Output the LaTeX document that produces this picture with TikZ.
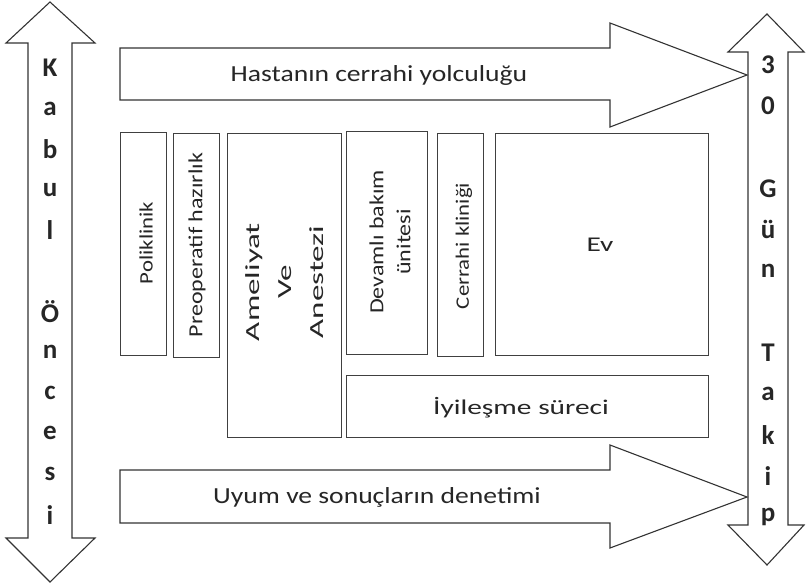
\documentclass[tikz,border=0pt]{standalone}
\usepackage{fontspec}
\setmainfont{Carlito}
\newfontfamily\widefont[FakeStretch=1.2]{Carlito}
\newfontfamily\widerfont[FakeStretch=1.4]{Carlito}
\newfontfamily\widestfont[FakeStretch=1.65]{Carlito}
\begin{document}
\begin{tikzpicture}[x=1pt,y=-1pt,
  shape line/.style={draw=black!80,line width=1.1pt,fill=white,line join=miter},
  boxln/.style={draw=black!75,line width=1pt},
  txt/.style={text=black!85,font=\widefont\fontsize{20}{26}\selectfont,inner sep=0pt},
  arrtxt/.style={text=black!85,font=\widefont\fontsize{23}{26}\selectfont,inner sep=0pt},
  vtxt/.style={txt,rotate=90,align=center},
  big/.style={text=black!85,font=\bfseries\fontsize{27}{30}\selectfont,inner sep=0pt}]
\useasboundingbox (0,0) rectangle (806,587);
% left double arrow
\draw[shape line] (50,2) -- (95,43) -- (72,43) -- (72,538) -- (95,538) -- (50,582)
  -- (6,538) -- (28,538) -- (28,43) -- (6,43) -- cycle;
% right double arrow
\draw[shape line] (767,14) -- (804,52) -- (788,52) -- (788,525) -- (804,525) -- (767,565)
  -- (728,525) -- (748,525) -- (748,52) -- (728,52) -- cycle;
% top arrow
\draw[shape line] (120,48) -- (610,48) -- (610,23) -- (747,75) -- (610,127) -- (610,100) -- (120,100) -- cycle;
% bottom arrow
\draw[shape line] (120,470) -- (610,470) -- (610,445) -- (747,497) -- (610,548) -- (610,523) -- (120,523) -- cycle;
% boxes
\draw[boxln] (120,132) rectangle (166,355);
\draw[boxln] (173,133) rectangle (219,357);
\draw[boxln] (227,133) rectangle (341,437);
\draw[boxln] (346,131) rectangle (427,354);
\draw[boxln] (437,133) rectangle (483,356);
\draw[boxln] (495,133) rectangle (708,355);
\draw[boxln] (346,375) rectangle (708,437);
% texts
\node[arrtxt] (t1) at (379,75) {Hastanın cerrahi yolculuğu};
\node[arrtxt] (t2) at (377,497) {Uyum ve sonuçların denetimi};
\node[vtxt,font=\widefont\fontsize{19}{24}\selectfont] (b1) at (146,243) {Poliklinik};
\node[vtxt] (b2) at (197,245) {Preoperatif hazırlık};
\node[vtxt,font=\widestfont\fontsize{20}{32}\selectfont] (b3) at (285,282) {Ameliyat\\Ve\\Anestezi};
\node[vtxt,font=\widefont\fontsize{20}{27}\selectfont] (b4) at (390,242) {Devamlı bakım\\ünitesi};
\node[vtxt,font=\widefont\fontsize{19}{24}\selectfont] (b5) at (464,246) {Cerrahi kliniği};
\node[txt,font=\widerfont\fontsize{21}{24}\selectfont] (b6) at (600,245) {Ev};
\node[txt,font=\widerfont\fontsize{21}{24}\selectfont] (b7) at (521,408) {İyileşme süreci};
% vertical letters left
\foreach \c [count=\i from 0] in {K,a,b,u,l,{},Ö,n,c,e,s,i}
  \node[big] (L\i) at (50,{68+40.6*\i}) {\c};
% vertical letters right
\foreach \c [count=\i from 0] in {3,0,{},G,ü,n,{},T,a,k,i,p}
  \node[big] (R\i) at (768,{65+41.1*\i}) {\c};
\end{tikzpicture}
\end{document}
